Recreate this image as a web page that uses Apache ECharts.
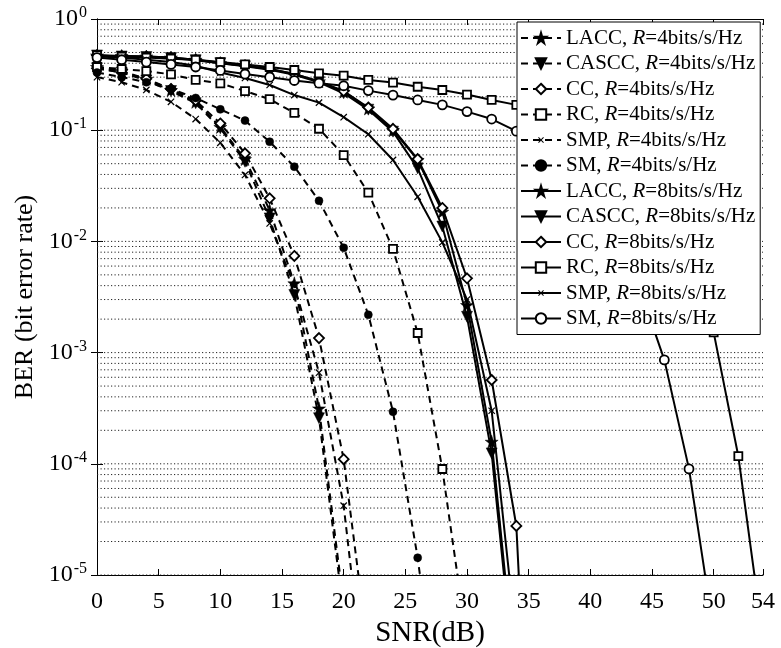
<!DOCTYPE html>
<html>
<head>
<meta charset="utf-8">
<script src="https://cdn.jsdelivr.net/npm/echarts@6/dist/echarts.min.js"></script>
<style>
html,body{margin:0;padding:0;background:#fff;}
#chart{width:781px;height:648px;}
</style>
</head>
<body>
<div id="chart"></div>
<script>
// SNR grid (dB), every 2 dB
const snr = [0,2,4,6,8,10,12,14,16,18,20,22,24,26,28,30,32,34,36,38,40,42,44,46,48,50,52,54];
const xMin = 0, xMax = 54;

// BER values (4 bits/s/Hz, dashed)
const lacc4  = [0.37,0.34,0.29,0.23,0.18,0.107,0.055,0.0191,0.0042,3.15e-4,5.5e-6];
const cascc4 = [0.36,0.33,0.28,0.225,0.175,0.104,0.052,0.0161,0.0033,2.57e-4,4.5e-6];
const cc4    = [0.36,0.33,0.29,0.235,0.185,0.115,0.062,0.0244,0.0074,1.35e-3,1.10e-4,2e-6];
const rc4    = [0.37,0.355,0.34,0.318,0.283,0.264,0.225,0.190,0.143,0.103,0.0598,0.0274,0.00855,0.00150,8.98e-5,2.5e-6];
const smp4   = [0.30,0.27,0.23,0.18,0.126,0.077,0.0396,0.0145,0.0040,6.6e-4,4.2e-5,5e-7];
const sm4    = [0.33,0.30,0.27,0.235,0.195,0.154,0.122,0.0788,0.0470,0.0232,0.00877,0.00219,2.94e-4,1.43e-5,3e-7];

// BER values (8 bits/s/Hz, solid)
const lacc8  = [0.47,0.465,0.46,0.45,0.43,0.40,0.38,0.355,0.32,0.275,0.222,0.157,0.100,0.054,0.0185,0.00268,1.58e-4,1e-6];
const cascc8 = [0.47,0.46,0.455,0.445,0.425,0.40,0.375,0.35,0.315,0.27,0.215,0.153,0.097,0.0454,0.0136,0.0021,1.24e-4,8e-7];
const cc8    = [0.47,0.465,0.46,0.45,0.43,0.405,0.38,0.355,0.32,0.275,0.225,0.16,0.103,0.055,0.020,0.00466,5.67e-4,2.76e-5,1e-9];
const rc8    = [0.47,0.46,0.45,0.44,0.43,0.41,0.39,0.37,0.348,0.325,0.309,0.283,0.268,0.246,0.230,0.209,0.187,0.169,0.13,0.093,0.063,0.038,0.021,0.0105,0.0047,1.52e-3,1.17e-4,2.7e-6];
const smp8   = [0.46,0.45,0.43,0.41,0.38,0.33,0.295,0.255,0.207,0.177,0.131,0.092,0.054,0.0252,0.0098,0.0030,3.0e-4,2.5e-6];
const sm8    = [0.45,0.43,0.41,0.39,0.37,0.345,0.32,0.30,0.28,0.265,0.251,0.227,0.207,0.187,0.169,0.147,0.126,0.098,0.066,0.040,0.022,0.0105,0.0038,8.6e-4,9.0e-5,3.1e-6];

// horizontal dotted grid levels (m x 10^k)
const gridMantissa = [1,2,3,4,5,6,7,8,9];
const gridExponents = [-5,-4,-3,-2,-1];

const FONT = '"Liberation Serif", "Times New Roman", serif';

const star = 'path://M50,0 L61,35 L98,35 L68,57 L79,91 L50,70 L21,91 L32,57 L2,35 L39,35 Z';
// thin "x" marker; two invisible specks widen its box so the visible cross stays small
const cross = 'path://M-4,-4 L-3.98,-4 L-4,-3.98 Z M14,14 L13.98,14 L14,13.98 Z M0,1.2 L1.2,0 L5,3.8 L8.8,0 L10,1.2 L6.2,5 L10,8.8 L8.8,10 L5,6.2 L1.2,10 L0,8.8 L3.8,5 Z';

function pairs(vals){ return vals.map((v,i)=>[snr[i], v]); }

const defs = [
  {label:'LACC, R=4bits/s/Hz', vals:lacc4, dash:true, symbol:star, size:13, fill:'#000'},
  {label:'CASCC, R=4bits/s/Hz', vals:cascc4, dash:true, symbol:'triangle', rot:180, size:11, fill:'#000'},
  {label:'CC, R=4bits/s/Hz', vals:cc4, dash:true, symbol:'diamond', size:10, fill:'#fff'},
  {label:'RC, R=4bits/s/Hz', vals:rc4, dash:true, symbol:'rect', size:8, fill:'#fff'},
  {label:'SMP, R=4bits/s/Hz', vals:smp4, dash:true, symbol:cross, size:13, fill:'#000', noBorder:true},
  {label:'SM, R=4bits/s/Hz', vals:sm4, dash:true, symbol:'circle', size:8, fill:'#000'},
  {label:'LACC, R=8bits/s/Hz', vals:lacc8, dash:false, symbol:star, size:13, fill:'#000'},
  {label:'CASCC, R=8bits/s/Hz', vals:cascc8, dash:false, symbol:'triangle', rot:180, size:11, fill:'#000'},
  {label:'CC, R=8bits/s/Hz', vals:cc8, dash:false, symbol:'diamond', size:10, fill:'#fff'},
  {label:'RC, R=8bits/s/Hz', vals:rc8, dash:false, symbol:'rect', size:8, fill:'#fff'},
  {label:'SMP, R=8bits/s/Hz', vals:smp8, dash:false, symbol:cross, size:13, fill:'#000', noBorder:true},
  {label:'SM, R=8bits/s/Hz', vals:sm8, dash:false, symbol:'circle', size:9, fill:'#fff'}
];

const series = [];

// dotted horizontal grid
gridExponents.forEach(e=>gridMantissa.forEach(m=>{
  const v = m*Math.pow(10,e);
  series.push({
    type:'line', name:'_g'+m+'e'+e, silent:true, z:1, symbol:'none',
    data:[[xMin, v],[xMax, v]],
    lineStyle:{color:'#222', width:1, type:[1.2,2.3]},
    emphasis:{disabled:true}, animation:false
  });
}));

defs.forEach(d=>series.push({
  name: d.label,
  type: 'line',
  data: pairs(d.vals),
  symbol: d.symbol,
  symbolSize: d.size,
  symbolRotate: d.rot || 0,
  showAllSymbol: true,
  clip: true,
  z: 3,
  lineStyle: {color:'#000', width: 2, type: d.dash ? [7,5] : 'solid'},
  itemStyle: {color: d.fill, borderColor:'#000', borderWidth: d.noBorder ? 0 : (d.fill === '#fff' ? 1.8 : 0.5)},
  emphasis: {disabled: true},
  animation: false
}));

const option = {
  backgroundColor: '#fff',
  animation: false,
  grid: {left:97, right:18, top:19, bottom:73, containLabel:false, outerBoundsMode:'none'},
  xAxis: [{
    type:'value', min:xMin, max:xMax, interval:5, position:'bottom',
    name:'SNR(dB)', nameLocation:'middle', nameGap:42,
    nameTextStyle:{fontFamily:FONT, fontSize:29, color:'#000'},
    axisLine:{show:true, lineStyle:{color:'#000', width:1}},
    axisTick:{show:true, inside:true, length:6, lineStyle:{color:'#000'}},
    axisLabel:{fontFamily:FONT, fontSize:24, color:'#000', margin:15, showMaxLabel:true, showMinLabel:true},
    splitLine:{show:false}
  },{
    type:'value', min:xMin, max:xMax, interval:5, position:'top',
    axisLine:{show:true, lineStyle:{color:'#000', width:1}},
    axisTick:{show:true, inside:true, length:6, lineStyle:{color:'#000'}},
    axisLabel:{show:false}, splitLine:{show:false}
  }],
  yAxis: [{
    type:'log', logBase:10, min:1e-5, max:1, splitNumber:5, position:'left',
    name:'BER (bit error rate)', nameLocation:'middle', nameGap:51,
    nameTextStyle:{fontFamily:FONT, fontSize:26, color:'#000'},
    axisLine:{show:true, lineStyle:{color:'#000', width:1}},
    axisTick:{show:true, inside:true, length:6, lineStyle:{color:'#000'}},
    axisLabel:{
      margin:10, color:'#000',
      formatter: v => { const e = Math.round(Math.log10(v)); return '{b|10}{s|' + e + '}'; },
      rich:{
        b:{fontFamily:FONT, fontSize:24, color:'#000', lineHeight:28},
        s:{fontFamily:FONT, fontSize:16, color:'#000', verticalAlign:'top', lineHeight:28, padding:[0,0,12,1]}
      }
    },
    splitLine:{show:false}
  },{
    type:'log', logBase:10, min:1e-5, max:1, splitNumber:5, position:'right',
    axisLine:{show:true, lineStyle:{color:'#000', width:1}},
    axisTick:{show:true, inside:true, length:6, lineStyle:{color:'#000'}},
    axisLabel:{show:false}, splitLine:{show:false}
  }],
  legend: {
    data: defs.map(d=>d.label),
    orient:'vertical', left:517, top:22,
    backgroundColor:'#fff', borderColor:'#000', borderWidth:1,
    padding:[5,5,5,3],
    itemWidth:40, itemHeight:13, itemGap:3.5,
    z: 10,
    selectedMode:false,
    formatter: name => { const p = name.split('R='); return '{n|' + p[0] + '}{i|R}{n|=' + p[1] + '}'; },
    textStyle:{
      fontFamily:FONT, fontSize:21, color:'#000', lineHeight:22,
      rich:{
        n:{fontFamily:FONT, fontSize:21, color:'#000', lineHeight:22},
        i:{fontFamily:FONT, fontSize:21, color:'#000', fontStyle:'italic', lineHeight:22}
      }
    }
  },
  series: series
};

const chart = echarts.init(document.getElementById('chart'), null, {renderer:'canvas'});
chart.setOption(option);
</script>
</body>
</html>
